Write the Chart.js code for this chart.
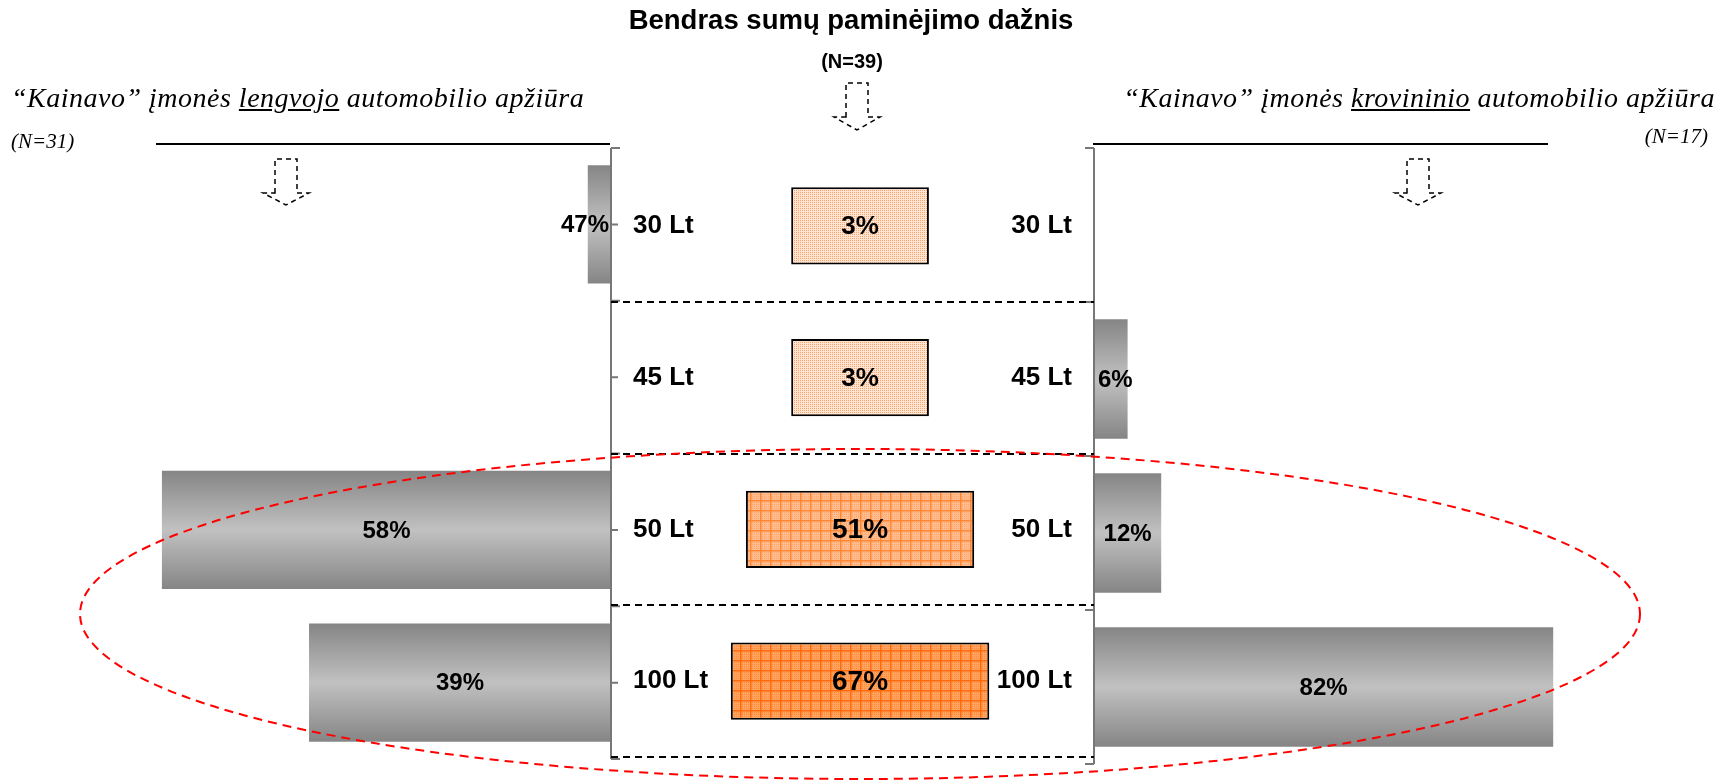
<!DOCTYPE html>
<html>
<head>
<meta charset="utf-8">
<script src="https://cdn.jsdelivr.net/npm/chart.js"></script>
<style>
  html, body { margin: 0; padding: 0; background: #fff; }
  #wrap { position: relative; width: 1721px; height: 783px; overflow: hidden; }
  #wrap canvas { position: absolute; left: 0; top: 0; }
  .t { position: absolute; white-space: nowrap; line-height: 1; color: #000; }
  .bold { font-family: "Liberation Sans", Arial, sans-serif; font-weight: bold; }
  .ital { font-family: "Liberation Serif", "Times New Roman", serif; font-style: italic; }
</style>
</head>
<body>
<div id="wrap">
  <canvas id="cl" width="1721" height="783"></canvas>
  <canvas id="cr" width="1721" height="783"></canvas>
  <canvas id="cc" width="1721" height="783"></canvas>
  <div class="t bold" style="left:0;width:1702px;text-align:center;top:6px;font-size:27.5px">Bendras sumų paminėjimo dažnis</div>
  <div class="t bold" style="left:0;width:1704px;text-align:center;top:51px;font-size:20px">(N=39)</div>
  <div class="t ital" style="left:11px;top:84px;font-size:28px;letter-spacing:0.5px">“Kainavo” įmonės <u>lengvojo</u> automobilio apžiūra</div>
  <div class="t ital" style="left:11px;top:131px;font-size:21px">(N=31)</div>
  <div class="t ital" style="right:6px;top:84px;font-size:28px;letter-spacing:0.5px">“Kainavo” įmonės <u>krovininio</u> automobilio apžiūra</div>
  <div class="t ital" style="right:13px;top:126px;font-size:21px">(N=17)</div>
</div>
<script>
Chart.defaults.font.family = '"Liberation Sans", Arial, sans-serif';

var cats = ['30 Lt', '45 Lt', '50 Lt', '100 Lt'];

// lengvojo automobilio apziura (N=31): bar length as drawn, and the printed label
// (the 47% bar is drawn very short in the original)
var carBar = [3, null, 58, 39];
var carText = ['47%', '', '58%', '39%'];

// krovininio automobilio apziura (N=17)
var truckBar = [null, 6, 12, 82];
var truckText = ['', '6%', '12%', '82%'];

// bendras sumu pamin. daznis (N=39)
var totalVals = [3, 3, 51, 67];
var totalText = ['3%', '3%', '51%', '67%'];

var BAR_PCT = 0.775;

function grayFill(c) {
  var chart = c.chart;
  if (!chart.chartArea || c.type !== 'data') return '#a3a3a3';
  var y = chart.scales.y;
  var mid = y.getPixelForValue(c.dataIndex);
  var h = Math.abs(y.getPixelForValue(1) - y.getPixelForValue(0)) * BAR_PCT / 2;
  var g = chart.ctx.createLinearGradient(0, mid - h, 0, mid + h);
  g.addColorStop(0, '#858585');
  g.addColorStop(0.5, '#c1c1c1');
  g.addColorStop(1, '#858585');
  return g;
}

function makePattern(size, bg, dot, line) {
  var cv = document.createElement('canvas');
  cv.width = size; cv.height = size;
  var p = cv.getContext('2d');
  p.fillStyle = bg;
  p.fillRect(0, 0, size, size);
  p.fillStyle = dot;
  for (var i = 0; i < size; i++) {
    for (var j = 0; j < size; j++) {
      if ((i + j) % 2 === 0 && i % 2 === 0) p.fillRect(i, j, 1, 1);
    }
  }
  if (line) {
    p.fillStyle = line;
    p.fillRect(0, 0, size, 1.5);
    p.fillRect(0, 0, 1.5, size);
  }
  return p.createPattern(cv, 'repeat');
}
var patLight = makePattern(4, '#fee4d1', '#f6a571', null);
var patMid = makePattern(10, '#ffbd8f', '#ffa76b', '#ff8632');
var patDark = makePattern(10, '#ffa35e', '#ff8b3c', '#ff6a0c');

function boxFill(c) {
  var v = totalVals[c.dataIndex];
  if (v < 10) return patLight;
  if (v < 60) return patMid;
  return patDark;
}

function barText(texts, size, toLeft) {
  return {
    id: 'barText',
    afterDatasetsDraw: function (chart) {
      var ctx = chart.ctx;
      ctx.save();
      ctx.fillStyle = '#000';
      ctx.textBaseline = 'middle';
      chart.getDatasetMeta(0).data.forEach(function (bar, i) {
        var t = texts[i];
        if (!t) return;
        var fs = typeof size === 'function' ? size(i) : size;
        ctx.font = 'bold ' + fs + 'px "Liberation Sans", Arial, sans-serif';
        var p = bar.getProps(['x', 'base', 'y'], true);
        var w = ctx.measureText(t).width;
        if (Math.abs(p.x - p.base) > w + 6) {
          ctx.textAlign = 'center';
          ctx.fillText(t, (p.x + p.base) / 2, p.y + 1);
        } else if (toLeft) {
          ctx.textAlign = 'right';
          ctx.fillText(t, p.base - 2, p.y + 1);
        } else {
          ctx.textAlign = 'left';
          ctx.fillText(t, p.base + 4, p.y + 1);
        }
      });
      ctx.restore();
    }
  };
}

function axisLine(onRight, centerTicks) {
  return {
    id: 'axisLine',
    afterDatasetsDraw: function (chart) {
      var ctx = chart.ctx, a = chart.chartArea, y = chart.scales.y;
      var x = onRight ? a.right : a.left;
      var dir = onRight ? 1 : -1;
      ctx.save();
      ctx.strokeStyle = '#777';
      ctx.lineWidth = 2;
      ctx.beginPath();
      ctx.moveTo(x, a.top);
      ctx.lineTo(x, a.bottom);
      for (var i = 0; i <= cats.length; i++) {
        var yy = y.getPixelForValue(i - 0.5);
        ctx.moveTo(x, yy);
        ctx.lineTo(x + dir * 9, yy);
        if (centerTicks && i < cats.length) {
          var yc = y.getPixelForValue(i);
          ctx.moveTo(x, yc);
          ctx.lineTo(x + dir * 7, yc);
        }
      }
      ctx.stroke();
      ctx.restore();
    }
  };
}

function arrow(ctx, x, top, wingY, tip) {
  ctx.beginPath();
  ctx.moveTo(x - 11, wingY);
  ctx.lineTo(x - 11, top);
  ctx.lineTo(x + 11, top);
  ctx.lineTo(x + 11, wingY);
  ctx.lineTo(x + 23, wingY);
  ctx.lineTo(x, tip);
  ctx.lineTo(x - 23, wingY);
  ctx.closePath();
  ctx.stroke();
}

var decorations = {
  id: 'decorations',
  afterDraw: function (chart) {
    var ctx = chart.ctx;
    ctx.save();
    // header rules
    ctx.strokeStyle = '#000';
    ctx.lineWidth = 2;
    ctx.setLineDash([]);
    ctx.beginPath();
    ctx.moveTo(156, 144); ctx.lineTo(610, 144);
    ctx.moveTo(1093, 144); ctx.lineTo(1548, 144);
    ctx.stroke();
    // dashed arrows
    ctx.lineWidth = 1.5;
    ctx.setLineDash([5, 4]);
    arrow(ctx, 286, 159, 193, 205);
    arrow(ctx, 857, 83, 117, 130);
    arrow(ctx, 1418, 159, 193, 205);
    // red dashed ellipse round 50 Lt and 100 Lt
    ctx.strokeStyle = '#ff0000';
    ctx.lineWidth = 2;
    ctx.setLineDash([9, 6]);
    ctx.beginPath();
    ctx.ellipse(860, 614, 780, 165, 0, 0, Math.PI * 2);
    ctx.stroke();
    ctx.restore();
  }
};

var baseOpts = {
  indexAxis: 'y',
  responsive: false,
  animation: false,
  devicePixelRatio: 1,
  plugins: { legend: { display: false }, tooltip: { enabled: false } }
};

new Chart(document.getElementById('cl'), {
  type: 'bar',
  data: {
    labels: cats,
    datasets: [{ data: carBar, backgroundColor: grayFill, borderWidth: 0, barPercentage: BAR_PCT, categoryPercentage: 1 }]
  },
  options: Object.assign({}, baseOpts, {
    layout: { padding: { left: 69, right: 1110, top: 148, bottom: 24 } },
    scales: {
      x: { display: false, reverse: true, min: 0, max: 70 },
      y: { display: false }
    }
  }),
  plugins: [barText(carText, 24, true), axisLine(true, true)]
});

new Chart(document.getElementById('cr'), {
  type: 'bar',
  data: {
    labels: cats,
    datasets: [{ data: truckBar, backgroundColor: grayFill, borderWidth: 0, barPercentage: BAR_PCT, categoryPercentage: 1 }]
  },
  options: Object.assign({}, baseOpts, {
    layout: { padding: { left: 1094, right: 67, top: 148, bottom: 19 } },
    scales: {
      x: { display: false, min: 0, max: 100 },
      y: { display: false }
    }
  }),
  plugins: [barText(truckText, 24, false), axisLine(false, false)]
});

var catFont = { size: 26, weight: 'bold' };

// mirrored category labels inside the plot, the axis itself takes no room
function flatAxis(s) {
  s.width = 0;
  s.paddingTop = 0;
  s.paddingBottom = 0;
  s.paddingLeft = 0;
  s.paddingRight = 0;
}

new Chart(document.getElementById('cc'), {
  type: 'bar',
  data: {
    labels: cats,
    datasets: [{
      data: totalVals.map(function (v) { return [-(v + 70) / 2, (v + 70) / 2]; }),
      backgroundColor: boxFill,
      borderColor: '#000',
      borderWidth: 2,
      borderSkipped: false,
      barPercentage: 0.51,
      categoryPercentage: 1
    }]
  },
  options: Object.assign({}, baseOpts, {
    layout: { padding: { left: 611, right: 627, top: 150, bottom: 26 } },
    scales: {
      x: { display: false, min: -132, max: 124 },
      y: {
        position: 'left',
        afterFit: flatAxis,
        grid: {
          drawTicks: false,
          lineWidth: 2,
          color: function (c) { return c.index === 0 ? 'rgba(0,0,0,0)' : '#000'; }
        },
        border: { display: false, dash: [7, 5] },
        ticks: { mirror: true, padding: 22, color: '#000', font: catFont }
      },
      y2: {
        type: 'category',
        labels: cats,
        position: 'right',
        afterFit: flatAxis,
        grid: { display: false, drawTicks: false },
        border: { display: false },
        ticks: { mirror: true, padding: -22, color: '#000', font: catFont }
      }
    }
  }),
  plugins: [barText(totalText, function (i) { return totalVals[i] > 10 ? 28 : 26; }, false), decorations]
});
</script>
</body>
</html>
